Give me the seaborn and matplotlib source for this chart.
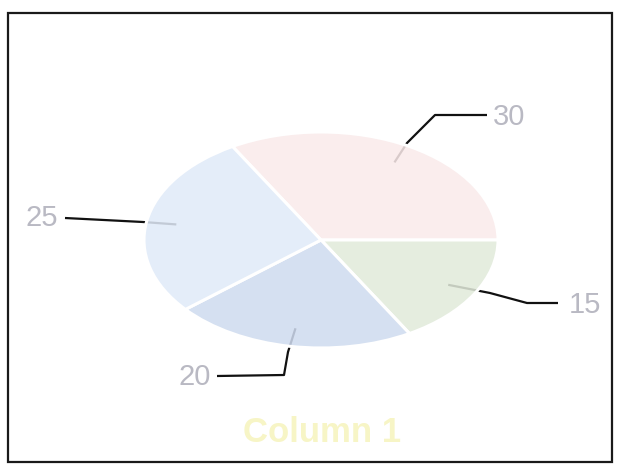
import numpy as np
import matplotlib
matplotlib.use("Agg")
import matplotlib.pyplot as plt
from matplotlib.patches import Rectangle
import seaborn as sns

# ---- data ----
categories = ["A", "B", "C", "D"]
values = [30, 15, 20, 25]
value_labels = ["30", "15", "20", "25"]
title = "Column 1"

# slice colours (very pale, as in the scan)
slice_colors = ["#faeaea", "#e1eada", "#cfdbef", "#e0eaf8"]

sns.set_theme(style="white")
plt.rcParams["font.family"] = ["Liberation Sans", "DejaVu Sans"]

W, H = 622, 467
fig = plt.figure(figsize=(W / 100, H / 100), dpi=100)
ax = fig.add_axes([0, 0, 1, 1])

# ellipse geometry in pixels
CX, CY, RX, RY = 321, 240, 177, 108


def px(x, y):
    """pixel (from top-left) -> data coords"""
    return (x - CX) / RX, (CY - y) / RY


pal = sns.color_palette(slice_colors)
face = [(*c, 0.86) for c in pal]

wedges, _ = ax.pie(values, colors=face, startangle=120, counterclock=False,
                   radius=1, wedgeprops=dict(edgecolor="white", linewidth=2.2,
                                             zorder=3))
ax.set_aspect("auto")
ax.set_xlim(-CX / RX, (W - CX) / RX)
ax.set_ylim(-(H - CY) / RY, CY / RY)
ax.axis("off")

# leader lines: anchor on the wedge mid-angle, then elbows to the label
total = sum(values)
angles = []
a = 120.0
for v in values:
    span = 360.0 * v / total
    angles.append(np.deg2rad(a - span / 2))
    a -= span

elbows = {
    "30": [(407, 143), (435, 115), (487, 115)],
    "15": [(490, 293), (527, 303), (558, 303)],
    "20": [(288, 352), (284, 375), (217, 376)],
    "25": [(143, 222), (65, 218)],
}
text_pos = {
    "30": (493, 117, "left"),
    "15": (569, 305, "left"),
    "20": (211, 377, "right"),
    "25": (58, 218, "right"),
}

for lab, ang in zip(value_labels, angles):
    r = 0.83
    pts = [(r * np.cos(ang), r * np.sin(ang))] + [px(*p) for p in elbows[lab]]
    xs, ys = zip(*pts)
    ax.plot(xs, ys, color="#111111", lw=1.6, zorder=1, solid_capstyle="butt")
    tx, ty, ha = text_pos[lab]
    ax.text(*px(tx, ty), lab, ha=ha, va="center", fontsize=21,
            color="#b9b9c3", zorder=5)

fig.text(322.5 / W, 1 - 432 / H, title, ha="center", va="center",
         fontsize=25, fontweight="bold", color="#f7f5c6")

# scanned frame
fig.patches.append(Rectangle((8 / W, 1 - 462 / H), (612 - 8) / W, (462 - 13) / H,
                             transform=fig.transFigure, fill=False,
                             edgecolor="#1a1a1a", linewidth=1.6))

fig.savefig("out.png", dpi=100, facecolor="white")
